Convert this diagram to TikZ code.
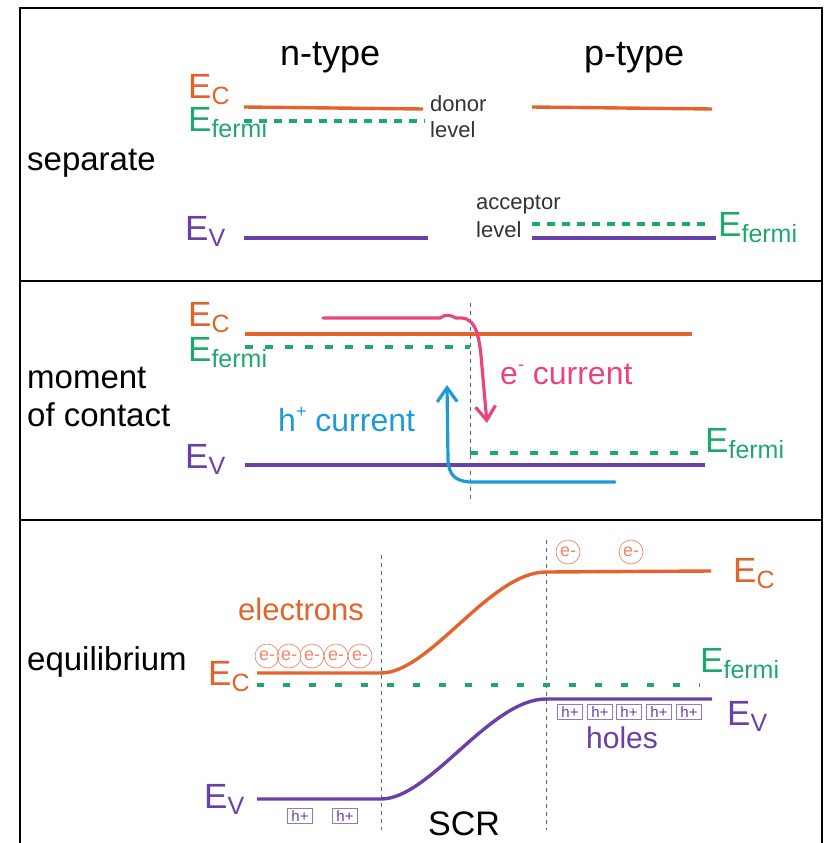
\documentclass[tikz,border=0pt]{standalone}
\usepackage{fontspec}
\setmainfont{Liberation Sans}
\usetikzlibrary{arrows.meta}
\definecolor{cO}{HTML}{E4632A}
\definecolor{cG}{HTML}{1FA86C}
\definecolor{cP}{HTML}{6B3FA8}
\definecolor{cK}{HTML}{E8457F}
\definecolor{cB}{HTML}{1E9AD6}
\definecolor{cE}{HTML}{F0856A}
\definecolor{cH}{HTML}{8A7BC8}
\newcommand\fs[1]{\fontsize{#1}{#1}\selectfont}
\newcommand\elab[1]{{\fs{35}E}{\raisebox{-6pt}{\fs{25}#1}}}
\begin{document}
\begin{tikzpicture}[x=1pt,y=-1pt,
  lbl/.style={inner sep=0pt, anchor=base west},
  band/.style={line width=3.4pt},
  ferm/.style={draw=cG, line width=3.4pt, dash pattern=on 8pt off 7pt},
  fermw/.style={draw=cG, line width=3.4pt, dash pattern=on 8pt off 12pt},
  fermx/.style={draw=cG, line width=3.4pt, dash pattern=on 7pt off 19pt},
  guide/.style={draw=black!60, line width=0.9pt, dash pattern=on 4pt off 4pt},
  elec/.style={circle, draw=cE, text=cE, line width=0.7pt, minimum size=24pt, inner sep=0pt, font=\fs{18}},
  hole/.style={rectangle, draw=cH, text=cP, line width=0.7pt, minimum width=25pt, minimum height=15pt, inner sep=0pt, font=\fs{15}},
  big/.style={font=\fs{33}},
  small/.style={font=\fs{22}, text=black!80}]
\useasboundingbox (0,0) rectangle (825,843);
% frame
\draw[line width=2.5pt] (20,843) -- (20,8) -- (822,8) -- (822,843);
\draw[line width=2.5pt] (20,281) -- (822,281);
\draw[line width=2.5pt] (20,520) -- (822,520);

% ---------- panel 1: separate ----------
\node[lbl, font=\fs{36}] (nt) at (280,66) {n-type};
\node[lbl, font=\fs{36}] (pt) at (584,66) {p-type};
\node[lbl, big] (sep) at (27,170) {separate};
\node[lbl, text=cO] (ec1) at (188,98) {\elab{C}};
\node[lbl, text=cG] (ef1) at (188,131) {\elab{fermi}};
\node[lbl, text=cP] (ev1) at (185,240) {\elab{V}};
\node[lbl, text=cG] (ef1p) at (718,236) {\elab{fermi}};
\node[lbl, small] (don) at (430,111) {donor};
\node[lbl, small] (donl) at (430,137) {level};
\node[lbl, small] (acc) at (476,209) {acceptor};
\node[lbl, small] (accl) at (476,237) {level};
\coordinate (a1) at (244,107); \coordinate (a2) at (423,109);
\draw[band, cO] (a1) -- (a2);
\coordinate (a3) at (244,121); \coordinate (a4) at (425,121);
\draw[ferm] (a3) -- (a4);
\coordinate (a5) at (244,238); \coordinate (a6) at (428,238);
\draw[band, cP] (a5) -- (a6);
\coordinate (b1) at (532,107); \coordinate (b2) at (712,109);
\draw[band, cO] (b1) -- (b2);
\coordinate (b3) at (532,224); \coordinate (b4) at (712,224);
\draw[ferm] (b3) -- (b4);
\coordinate (b5) at (532,238); \coordinate (b6) at (716,238);
\draw[band, cP] (b5) -- (b6);

% ---------- panel 2: moment of contact ----------
\node[lbl, big] (mom) at (27,388) {moment};
\node[lbl, big] (ofc) at (27,426) {of contact};
\node[lbl, text=cO] (ec2) at (188,326) {\elab{C}};
\node[lbl, text=cG] (ef2) at (188,361) {\elab{fermi}};
\node[lbl, text=cP] (ev2) at (185,468) {\elab{V}};
\node[lbl, text=cG] (ef2p) at (705,452) {\elab{fermi}};
\node[lbl, font=\fs{32}, text=cK] (ecur) at (500,384) {e\raisebox{14pt}{\fs{18}-}\ current};
\node[lbl, font=\fs{32}, text=cB] (hcur) at (278,431) {h\raisebox{14pt}{\fs{18}+}\ current};
\coordinate (c1) at (245,334); \coordinate (c2) at (692,334);
\draw[band, cO] (c1) -- (c2);
\coordinate (c3) at (245,347); \coordinate (c4) at (470,347);
\draw[fermw] (c3) -- (c4);
\coordinate (g1) at (470,303); \coordinate (g2) at (470,500);
\draw[guide] (g1) -- (g2);
\coordinate (c5) at (470,453); \coordinate (c6) at (705,453);
\draw[fermw] (c5) -- (c6);
\coordinate (c7) at (245,465); \coordinate (c8) at (705,465);
\draw[band, cP] (c7) -- (c8);
% e- current arrow
\coordinate (k1) at (323,318); \coordinate (k2) at (487,423);
\draw[cK, line width=3.2pt, line cap=round, -{Straight Barb[length=14pt,width=20pt,line width=3.2pt]}]
  (k1) -- (440,318) .. controls (445,314) and (451,315) .. (456,318) -- (462,318)
  .. controls (477,319) and (480,340) .. (482,367) -- (k2);
% h+ current arrow
\coordinate (h1) at (615,482); \coordinate (h2) at (447,385);
\draw[cB, line width=3.2pt, line cap=round, -{Straight Barb[length=14pt,width=20pt,line width=3.2pt]}]
  (h1) -- (470,482) .. controls (455,481) and (449,475) .. (448,460) -- (h2);

% ---------- panel 3: equilibrium ----------
\node[lbl, big] (equ) at (27,670) {equilibrium};
\node[lbl, text=cO] (ec3) at (208,685) {\elab{C}};
\node[lbl, text=cO] (ec3p) at (733,582) {\elab{C}};
\node[lbl, text=cG] (ef3p) at (700,672) {\elab{fermi}};
\node[lbl, text=cP] (ev3) at (204,808) {\elab{V}};
\node[lbl, text=cP] (ev3p) at (727,725) {\elab{V}};
\node[lbl, font=\fs{31}, text=cO] (elx) at (238,620) {electrons};
\node[lbl, font=\fs{30}, text=cP] (hol) at (586,748) {holes};
\node[lbl, font=\fs{34}] (scr) at (428,835) {SCR};
\coordinate (s1) at (381,555); \coordinate (s2) at (381,830);
\draw[guide] (s1) -- (s2);
\coordinate (s3) at (546,540); \coordinate (s4) at (546,830);
\draw[guide] (s3) -- (s4);
\coordinate (d1) at (257,673); \coordinate (d2) at (381,673);
\coordinate (d3) at (546,572); \coordinate (d4) at (711,571);
\draw[band, cO] (d1) -- (d2) .. controls (430,673) and (490,572) .. (d3) -- (d4);
\coordinate (d5) at (257,685); \coordinate (d6) at (700,685);
\draw[fermx] (d5) -- (d6);
\coordinate (d7) at (257,799); \coordinate (d8) at (381,799);
\coordinate (d9) at (546,699); \coordinate (d10) at (712,699);
\draw[band, cP] (d7) -- (d8) .. controls (430,799) and (490,699) .. (d9) -- (d10);
% electrons
\foreach \x [count=\i] in {267,289,312,336,360}
  \node[elec] (el\i) at (\x,656) {e-};
\node[elec] (et1) at (568,552) {e-};
\node[elec] (et2) at (631,552) {e-};
% holes
\foreach \x [count=\i] in {570,600,629,659,689}
  \node[hole] (ht\i) at (\x,712) {h+};
\node[hole] (hb1) at (300,816) {h+};
\node[hole] (hb2) at (345,816) {h+};
\end{tikzpicture}
\end{document}
